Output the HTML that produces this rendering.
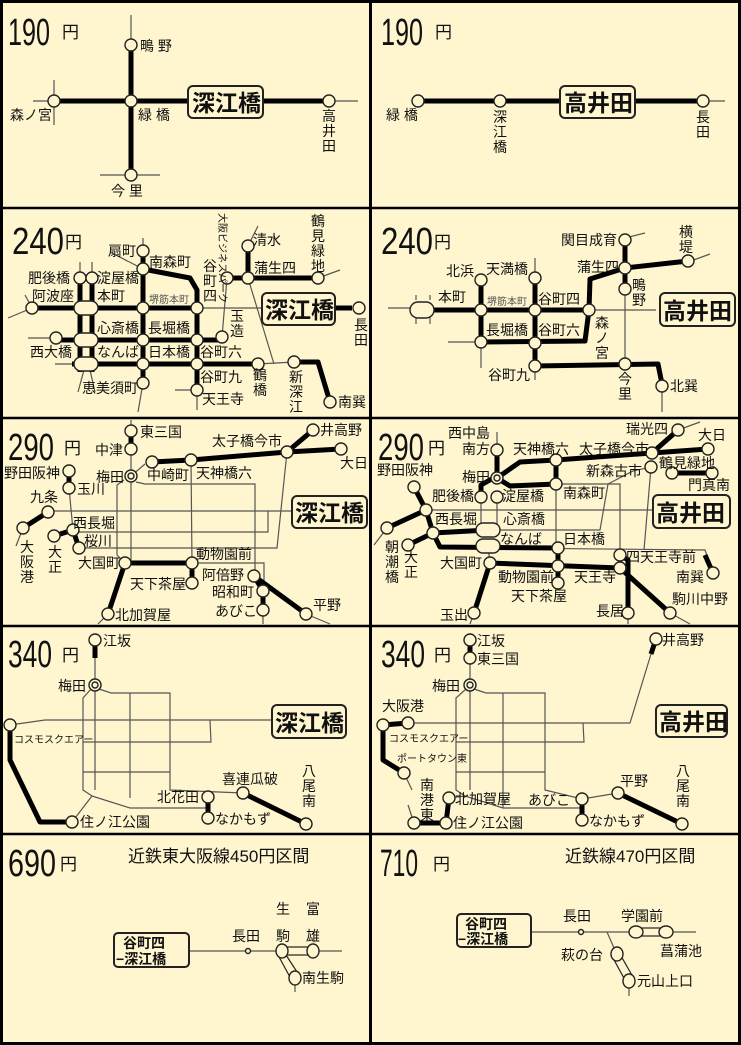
<!DOCTYPE html>
<html><head><meta charset="utf-8"><style>
html,body{margin:0;padding:0;background:#fff6cf;}
svg{display:block}
text{font-family:"Liberation Sans","Noto Sans CJK JP",sans-serif;font-size:14px;fill:#111}
.k{stroke:#000;stroke-width:5;fill:none;stroke-linejoin:round}
.h{stroke:#555;stroke-width:1.2;fill:none}
.s{fill:#fff6cf;stroke:#222;stroke-width:1.4}
.bx{fill:#fff6cf;stroke:#222;stroke-width:2}
.bt{font-size:23px;font-weight:bold}
.fare{font-size:38px}
.yen{font-size:17px}
</style></head><body>
<svg width="741" height="1045" viewBox="0 0 741 1045" xmlns="http://www.w3.org/2000/svg">
<rect x="0" y="0" width="741" height="1045" fill="#fff6cf"/>
<!-- frame -->
<rect x="1.5" y="1.5" width="738" height="1042" fill="none" stroke="#000" stroke-width="3"/>
<line x1="370.5" y1="0" x2="370.5" y2="1045" stroke="#000" stroke-width="3"/>
<g stroke="#000" stroke-width="2.5">
<line x1="0" y1="208" x2="741" y2="208"/><line x1="0" y1="418" x2="741" y2="418"/>
<line x1="0" y1="626" x2="741" y2="626"/><line x1="0" y1="834" x2="741" y2="834"/>
</g>

<!-- ===== Panel 1: 190 深江橋 ===== -->
<text x="8" y="45" class="fare" textLength="42" lengthAdjust="spacingAndGlyphs">190</text>
<text x="62" y="38" class="yen">円</text>
<line class="h" x1="131" y1="15" x2="131" y2="45"/>
<line class="h" x1="33" y1="101" x2="54" y2="101"/>
<line class="h" x1="54" y1="80" x2="54" y2="125"/>
<line class="h" x1="100" y1="175" x2="160" y2="175"/>
<line class="h" x1="329" y1="101" x2="358" y2="101"/>
<line class="k" x1="131" y1="45" x2="131" y2="175"/>
<line class="k" x1="54" y1="101" x2="329" y2="101"/>
<rect class="bx" x="188" y="86" width="75" height="32" rx="5"/>
<text x="192" y="111" class="bt">深江橋</text>
<circle class="s" cx="131" cy="45" r="6"/><circle class="s" cx="131" cy="101" r="6"/>
<circle class="s" cx="131" cy="175" r="6"/><circle class="s" cx="54" cy="101" r="6"/>
<circle class="s" cx="329" cy="101" r="6"/>
<text x="140" y="51">鴫 野</text><text x="138" y="120">緑 橋</text>
<text x="10" y="120">森ノ宮</text><text x="111" y="196">今 里</text>
<text x="322" y="121">高</text><text x="322" y="136">井</text><text x="322" y="151">田</text>

<!-- ===== Panel 2: 190 高井田 ===== -->
<text x="381" y="45" class="fare" textLength="42" lengthAdjust="spacingAndGlyphs">190</text>
<text x="435" y="38" class="yen">円</text>
<line class="k" x1="418" y1="101" x2="703" y2="101"/>
<line class="h" x1="703" y1="101" x2="725" y2="101"/>
<rect class="bx" x="560" y="86" width="75" height="32" rx="5"/>
<text x="564" y="111" class="bt">高井田</text>
<circle class="s" cx="418" cy="101" r="6"/><circle class="s" cx="500" cy="101" r="6"/>
<circle class="s" cx="703" cy="101" r="6"/>
<text x="386" y="120">緑 橋</text>
<text x="493" y="122">深</text><text x="493" y="137">江</text><text x="493" y="152">橋</text>
<text x="696" y="122">長</text><text x="696" y="137">田</text>

<!-- ===== Panel 3: 240 深江橋 ===== -->
<text x="12" y="254" class="fare" textLength="52" lengthAdjust="spacingAndGlyphs">240</text>
<text x="65" y="248" class="yen">円</text>
<g class="h">
<line x1="143" y1="238" x2="143" y2="251"/><line x1="110" y1="252" x2="143" y2="269"/>
<line x1="80" y1="262" x2="80" y2="278"/><line x1="92" y1="262" x2="92" y2="278"/>
<line x1="8" y1="318" x2="32" y2="308"/><line x1="25" y1="295" x2="32" y2="308"/>
<line x1="28" y1="338" x2="56" y2="338"/><line x1="55" y1="364" x2="72" y2="364"/>
<line x1="84" y1="370" x2="78" y2="392"/><line x1="90" y1="370" x2="95" y2="392"/>
<line x1="143" y1="383" x2="138" y2="412"/><line x1="175" y1="390" x2="197" y2="390"/><line x1="197" y1="390" x2="197" y2="410"/>
<line x1="197" y1="308" x2="262" y2="308"/>
<line x1="227" y1="278" x2="222" y2="337"/>
<line x1="248" y1="246" x2="258" y2="226"/><line x1="248" y1="278" x2="274" y2="364"/>
<line x1="258" y1="364" x2="294" y2="362"/><line x1="318" y1="278" x2="340" y2="270"/>
</g>
<g class="k">
<polyline points="143,251 143,385"/>
<polyline points="143,269 190,278 197,290 197,390"/>
<line x1="80" y1="278" x2="80" y2="372"/><line x1="92" y1="278" x2="92" y2="372"/>
<line x1="32" y1="308" x2="197" y2="308"/>
<line x1="56" y1="340" x2="222" y2="340"/>
<line x1="72" y1="364" x2="258" y2="364"/>
<polyline points="227,278 318,278"/><line x1="248" y1="246" x2="248" y2="278"/>
<polyline points="294,362 318,362 330,402"/>
<line x1="335" y1="308" x2="352" y2="308"/>
</g>
<rect class="s" x="74" y="301" width="24" height="14" rx="7"/>
<rect class="s" x="74" y="333" width="24" height="14" rx="7"/>
<rect class="s" x="74" y="357" width="24" height="14" rx="7"/>
<g class="s">
<circle cx="143" cy="251" r="6"/><circle cx="143" cy="269" r="6"/><circle cx="143" cy="308" r="6"/>
<circle cx="143" cy="340" r="6"/><circle cx="143" cy="364" r="6"/><circle cx="143" cy="383" r="6"/>
<circle cx="197" cy="308" r="6"/><circle cx="197" cy="340" r="6"/><circle cx="197" cy="364" r="6"/><circle cx="197" cy="390" r="6"/>
<circle cx="80" cy="278" r="6"/><circle cx="92" cy="278" r="6"/><circle cx="32" cy="308" r="6"/><circle cx="56" cy="338" r="6"/>
<circle cx="222" cy="337" r="6"/><circle cx="227" cy="278" r="6"/><circle cx="248" cy="246" r="6"/><circle cx="248" cy="278" r="6"/>
<circle cx="318" cy="278" r="6"/><circle cx="258" cy="364" r="6"/><circle cx="294" cy="362" r="6"/><circle cx="330" cy="402" r="6"/>
<circle cx="359" cy="308" r="6"/>
</g>
<rect class="bx" x="262" y="293" width="73" height="32" rx="5"/>
<text x="265" y="318" class="bt">深江橋</text>
<text x="108" y="256">扇町</text><text x="149" y="267">南森町</text>
<text x="28" y="283">肥後橋</text><text x="97" y="283">淀屋橋</text>
<text x="32" y="301">阿波座</text><text x="97" y="301">本町</text>
<text x="149" y="303" style="font-size:10px;fill:#555">堺筋本町</text>
<text x="97" y="333">心斎橋</text><text x="148" y="333">長堀橋</text>
<text x="30" y="357">西大橋</text><text x="97" y="357">なんば</text><text x="148" y="357">日本橋</text>
<text x="200" y="357">谷町六</text><text x="82" y="393">恵美須町</text>
<text x="200" y="382">谷町九</text><text x="202" y="404">天王寺</text>
<text x="203" y="271">谷</text><text x="203" y="286">町</text><text x="203" y="301">四</text>
<text x="230" y="321">玉</text><text x="230" y="336">造</text>
<text x="253" y="245">清水</text><text x="254" y="273">蒲生四</text>
<text x="311" y="226">鶴</text><text x="311" y="241">見</text><text x="311" y="256">緑</text><text x="311" y="271">地</text>
<text x="253" y="380">鶴</text><text x="253" y="395">橋</text>
<text x="289" y="382">新</text><text x="289" y="397">深</text><text x="289" y="412">江</text>
<text x="338" y="407">南巽</text>
<text x="354" y="330">長</text><text x="354" y="345">田</text>
<text transform="translate(219,213) rotate(90)" style="font-size:10px">大阪ビジネスパーク</text>

<!-- ===== Panel 4: 240 高井田 ===== -->
<text x="381" y="254" class="fare" textLength="52" lengthAdjust="spacingAndGlyphs">240</text>
<text x="434" y="248" class="yen">円</text>
<g class="h">
<line x1="388" y1="308" x2="410" y2="308"/><line x1="416" y1="295" x2="416" y2="300"/><line x1="430" y1="295" x2="430" y2="300"/>
<line x1="416" y1="316" x2="416" y2="324"/><line x1="430" y1="316" x2="430" y2="324"/>
<line x1="535" y1="258" x2="535" y2="278"/><line x1="448" y1="342" x2="481" y2="342"/><line x1="481" y1="342" x2="481" y2="368"/>
<line x1="535" y1="366" x2="535" y2="380"/>
<line x1="590" y1="310" x2="656" y2="310"/>
<line x1="625" y1="289" x2="625" y2="364"/>
<line x1="625" y1="238" x2="645" y2="233"/><line x1="688" y1="262" x2="710" y2="254"/>
<line x1="662" y1="384" x2="662" y2="412"/>
</g>
<g class="k">
<line x1="420" y1="310" x2="590" y2="310"/>
<line x1="481" y1="280" x2="481" y2="342"/><line x1="535" y1="278" x2="535" y2="366"/>
<polyline points="481,342 585,341 589,310 590,279 625,268 688,261"/>
<line x1="625" y1="240" x2="625" y2="289"/>
<polyline points="535,366 658,364 662,384"/>
</g>
<rect class="s" x="410" y="302" width="24" height="16" rx="8"/>
<g class="s">
<circle cx="481" cy="280" r="6"/><circle cx="535" cy="278" r="6"/>
<circle cx="481" cy="310" r="6"/><circle cx="535" cy="310" r="6"/><circle cx="589" cy="310" r="6"/>
<circle cx="481" cy="342" r="6"/><circle cx="535" cy="343" r="6"/><circle cx="535" cy="366" r="6"/>
<circle cx="625" cy="240" r="6"/><circle cx="625" cy="268" r="6"/><circle cx="625" cy="289" r="6"/>
<circle cx="688" cy="261" r="6"/><circle cx="625" cy="364" r="6"/><circle cx="662" cy="386" r="6"/>
</g>
<rect class="bx" x="660" y="293" width="75" height="33" rx="5"/>
<text x="663" y="319" class="bt">高井田</text>
<text x="446" y="276">北浜</text><text x="486" y="274">天満橋</text>
<text x="438" y="302">本町</text><text x="487" y="305" style="font-size:10px;fill:#555">堺筋本町</text>
<text x="538" y="304">谷町四</text><text x="486" y="335">長堀橋</text><text x="538" y="335">谷町六</text>
<text x="488" y="380">谷町九</text>
<text x="561" y="245">関目成育</text><text x="577" y="272">蒲生四</text>
<text x="632" y="290">鴫</text><text x="632" y="305">野</text>
<text x="679" y="237">横</text><text x="679" y="252">堤</text>
<text x="595" y="328">森</text><text x="595" y="343">ノ</text><text x="595" y="358">宮</text>
<text x="618" y="384">今</text><text x="618" y="399">里</text>
<text x="670" y="391">北巽</text>

<!-- ===== Panel 5: 290 深江橋 ===== -->
<text x="8" y="460" class="fare" textLength="46" lengthAdjust="spacingAndGlyphs">290</text>
<text x="64" y="454" class="yen">円</text>
<g class="h">
<line x1="131" y1="420" x2="131" y2="563"/>
<polyline points="124,480 117,485 117,555 125,563"/>
<polyline points="136,482 145,484 255,484 255,576"/>
<line x1="191" y1="460" x2="192" y2="563"/>
<line x1="48" y1="511" x2="292" y2="511"/>
<polyline points="73,530 72,532 268,532 268,511"/>
<polyline points="79,548 277,548 287,452"/>
<polyline points="192,563 264,563 264,591"/>
<line x1="69" y1="488" x2="73" y2="530"/>
<line x1="23" y1="528" x2="16" y2="546"/>
<line x1="263" y1="610" x2="263" y2="624"/><line x1="108" y1="614" x2="98" y2="624"/><line x1="306" y1="614" x2="330" y2="624"/>
<line x1="131" y1="476" x2="145" y2="464"/>
</g>
<g class="k">
<line x1="131" y1="431" x2="131" y2="449"/>
<polyline points="152,462 191,460 287,452 313,430"/><line x1="287" y1="452" x2="341" y2="449"/>
<line x1="69" y1="471" x2="69" y2="488"/><line x1="48" y1="512" x2="23" y2="528"/>
<line x1="73" y1="530" x2="54" y2="536"/><line x1="73" y1="530" x2="79" y2="548"/>
<line x1="125" y1="563" x2="192" y2="563"/><line x1="192" y1="563" x2="192" y2="583"/>
<line x1="125" y1="563" x2="108" y2="614"/>
<polyline points="254,576 263,591 263,610"/><line x1="254" y1="576" x2="306" y2="614"/>
</g>
<g class="s">
<circle cx="131" cy="431" r="6"/><circle cx="131" cy="449" r="6"/><circle cx="131" cy="476" r="6"/><circle cx="131" cy="476" r="3"/>
<circle cx="152" cy="462" r="6"/><circle cx="191" cy="460" r="6"/><circle cx="287" cy="452" r="6"/>
<circle cx="313" cy="430" r="6"/><circle cx="341" cy="449" r="6"/>
<circle cx="69" cy="471" r="6"/><circle cx="69" cy="488" r="6"/><circle cx="48" cy="512" r="6"/><circle cx="23" cy="528" r="6"/>
<circle cx="73" cy="530" r="6"/><circle cx="54" cy="536" r="6"/><circle cx="79" cy="548" r="6"/>
<circle cx="125" cy="563" r="6"/><circle cx="192" cy="563" r="6"/><circle cx="192" cy="583" r="6"/><circle cx="108" cy="614" r="6"/>
<circle cx="254" cy="576" r="6"/><circle cx="263" cy="591" r="6"/><circle cx="263" cy="610" r="6"/><circle cx="306" cy="614" r="6"/>
</g>
<rect class="bx" x="292" y="496" width="75" height="32" rx="5"/>
<text x="295" y="521" class="bt">深江橋</text>
<text x="140" y="437">東三国</text><text x="95" y="455">中津</text><text x="96" y="482">梅田</text>
<text x="147" y="480">中崎町</text><text x="196" y="478">天神橋六</text><text x="212" y="446">太子橋今市</text>
<text x="320" y="435">井高野</text><text x="340" y="468">大日</text>
<text x="4" y="478">野田阪神</text><text x="77" y="494">玉川</text><text x="30" y="502">九条</text>
<text x="73" y="528">西長堀</text><text x="84" y="546">桜川</text>
<text x="20" y="552">大</text><text x="20" y="567">阪</text><text x="20" y="582">港</text>
<text x="48" y="557">大</text><text x="48" y="572">正</text>
<text x="78" y="568">大国町</text><text x="196" y="559">動物園前</text><text x="130" y="589">天下茶屋</text>
<text x="115" y="620">北加賀屋</text><text x="202" y="580">阿倍野</text><text x="212" y="597">昭和町</text>
<text x="215" y="616">あびこ</text><text x="313" y="610">平野</text>

<!-- ===== Panel 6: 290 高井田 ===== -->
<text x="378" y="460" class="fare" textLength="46" lengthAdjust="spacingAndGlyphs">290</text>
<text x="428" y="454" class="yen">円</text>
<g class="h">
<line x1="497" y1="432" x2="497" y2="450"/>
<line x1="497" y1="497" x2="497" y2="530"/><line x1="481" y1="497" x2="481" y2="528"/>
<line x1="426" y1="510" x2="653" y2="510"/>
<polyline points="488,530 600,530 608,484 633,471 651,467"/>
<polyline points="510,484 620,484 620,555"/>
<line x1="556" y1="484" x2="556" y2="548"/>
<line x1="651" y1="467" x2="644" y2="550"/>
<polyline points="500,548 705,550 713,573"/>
<line x1="387" y1="528" x2="374" y2="545"/><line x1="474" y1="613" x2="470" y2="624"/>
<line x1="628" y1="613" x2="628" y2="624"/><line x1="670" y1="613" x2="690" y2="624"/>
<line x1="678" y1="430" x2="700" y2="422"/><line x1="488" y1="546" x2="490" y2="563"/>
</g>
<g class="k">
<line x1="497" y1="450" x2="497" y2="478"/>
<polyline points="481,497 481,485 497,476"/>
<polyline points="497,478 520,462 556,460 652,453 678,430"/><line x1="652" y1="453" x2="708" y2="449"/>
<polyline points="497,478 510,486 556,484"/><line x1="556" y1="460" x2="556" y2="484"/>
<line x1="672" y1="473" x2="712" y2="473"/>
<line x1="414" y1="487" x2="426" y2="510"/><line x1="387" y1="528" x2="426" y2="510"/>
<polyline points="426,510 433,533 488,530"/><line x1="433" y1="533" x2="408" y2="545"/>
<polyline points="433,533 440,547 558,548"/>
<line x1="490" y1="563" x2="620" y2="568"/><line x1="558" y1="548" x2="558" y2="583"/>
<line x1="490" y1="563" x2="474" y2="613"/>
<polyline points="620,555 628,560 628,613"/><line x1="620" y1="568" x2="670" y2="613"/>
<line x1="705" y1="555" x2="713" y2="573"/>
</g>
<rect class="s" x="476" y="523" width="24" height="14" rx="7"/>
<rect class="s" x="476" y="539" width="24" height="14" rx="7"/>
<g class="s">
<circle cx="497" cy="450" r="6"/><circle cx="497" cy="478" r="6"/><circle cx="497" cy="478" r="3"/>
<circle cx="481" cy="497" r="6"/><circle cx="497" cy="497" r="6"/>
<circle cx="556" cy="460" r="6"/><circle cx="556" cy="484" r="6"/><circle cx="652" cy="453" r="6"/>
<circle cx="678" cy="430" r="6"/><circle cx="708" cy="449" r="6"/><circle cx="651" cy="467" r="6"/>
<circle cx="672" cy="473" r="6"/><circle cx="712" cy="473" r="6"/>
<circle cx="414" cy="487" r="6"/><circle cx="426" cy="510" r="6"/><circle cx="387" cy="528" r="6"/>
<circle cx="433" cy="533" r="6"/><circle cx="408" cy="545" r="6"/>
<circle cx="558" cy="548" r="6"/><circle cx="490" cy="563" r="6"/><circle cx="558" cy="566" r="6"/><circle cx="558" cy="583" r="6"/>
<circle cx="474" cy="613" r="6"/><circle cx="620" cy="555" r="6"/><circle cx="620" cy="568" r="6"/>
<circle cx="713" cy="573" r="6"/><circle cx="628" cy="613" r="6"/><circle cx="670" cy="613" r="6"/>
</g>
<rect class="bx" x="653" y="495" width="77" height="33" rx="5"/>
<text x="656" y="521" class="bt">高井田</text>
<text x="448" y="438">西中島</text><text x="462" y="454">南方</text><text x="462" y="482">梅田</text>
<text x="432" y="501">肥後橋</text><text x="502" y="501">淀屋橋</text>
<text x="513" y="454">天神橋六</text><text x="579" y="454">太子橋今市</text>
<text x="626" y="434">瑞光四</text><text x="698" y="440">大日</text>
<text x="586" y="476">新森古市</text><text x="659" y="468">鶴見緑地</text><text x="688" y="490">門真南</text>
<text x="563" y="498">南森町</text><text x="377" y="475">野田阪神</text>
<text x="435" y="524">西長堀</text><text x="503" y="524">心斎橋</text><text x="500" y="544">なんば</text>
<text x="563" y="544">日本橋</text>
<text x="385" y="552">朝</text><text x="385" y="567">潮</text><text x="385" y="582">橋</text>
<text x="404" y="562">大</text><text x="404" y="577">正</text>
<text x="440" y="568">大国町</text><text x="498" y="582">動物園前</text><text x="511" y="601">天下茶屋</text>
<text x="574" y="582">天王寺</text><text x="626" y="562">四天王寺前</text><text x="676" y="582">南巽</text>
<text x="672" y="604">駒川中野</text><text x="596" y="616">長居</text><text x="440" y="620">玉出</text>

<!-- ===== Panel 7: 340 深江橋 ===== -->
<text x="8" y="667" class="fare" textLength="44" lengthAdjust="spacingAndGlyphs">340</text>
<text x="62" y="661" class="yen">円</text>
<g class="h">
<line x1="95" y1="658" x2="95" y2="790"/>
<polyline points="91,689 83,698 83,790 92,796 72,822"/>
<polyline points="99,689 111,693 170,693 170,790 243,793"/>
<line x1="130" y1="693" x2="130" y2="798"/>
<polyline points="10,725 45,720 272,720"/>
<polyline points="210,720 211,742 83,742"/>
<line x1="83" y1="772" x2="170" y2="772"/>
<polyline points="92,796 130,808 208,808 208,797"/>
</g>
<g class="k">
<line x1="95" y1="640" x2="95" y2="658"/>
<polyline points="10,725 10,760 40,822 72,822"/>
<line x1="208" y1="797" x2="208" y2="818"/>
<line x1="243" y1="793" x2="306" y2="824"/>
</g>
<g class="s">
<circle cx="95" cy="640" r="6"/><circle cx="95" cy="685" r="6"/><circle cx="95" cy="685" r="3"/>
<circle cx="10" cy="725" r="6"/><circle cx="72" cy="822" r="6"/>
<circle cx="208" cy="797" r="6"/><circle cx="208" cy="818" r="6"/>
<circle cx="243" cy="793" r="6"/><circle cx="306" cy="824" r="6"/>
</g>
<rect class="bx" x="272" y="705" width="74" height="33" rx="5"/>
<text x="275" y="731" class="bt">深江橋</text>
<text x="103" y="646">江坂</text><text x="58" y="691">梅田</text>
<text x="14" y="743" style="font-size:10px">コスモスクエアー</text>
<text x="80" y="827">住ノ江公園</text><text x="157" y="802">北花田</text>
<text x="215" y="824">なかもず</text><text x="222" y="784">喜連瓜破</text>
<text x="302" y="776">八</text><text x="302" y="791">尾</text><text x="302" y="806">南</text>

<!-- ===== Panel 8: 340 高井田 ===== -->
<text x="381" y="667" class="fare" textLength="44" lengthAdjust="spacingAndGlyphs">340</text>
<text x="434" y="661" class="yen">円</text>
<g class="h">
<line x1="470" y1="664" x2="470" y2="790"/>
<polyline points="466,689 456,698 456,790 465,796 449,798"/>
<polyline points="474,689 486,693 545,693 545,790 582,799"/>
<line x1="503" y1="693" x2="503" y2="808"/>
<polyline points="408,723 630,723 651,654"/>
<polyline points="583,723 584,742 456,742"/>
<line x1="456" y1="772" x2="545" y2="772"/>
<polyline points="465,796 503,808 582,808 582,799 618,793"/>
<line x1="404" y1="773" x2="412" y2="790"/>
<line x1="414" y1="823" x2="408" y2="805"/>
</g>
<g class="k">
<line x1="470" y1="640" x2="470" y2="658"/>
<line x1="656" y1="639" x2="651" y2="654"/>
<polyline points="408,723 383,725 383,760 404,773"/>
<polyline points="414,823 446,823 449,798"/>
<line x1="582" y1="799" x2="582" y2="820"/>
<line x1="618" y1="793" x2="682" y2="824"/>
</g>
<g class="s">
<circle cx="470" cy="640" r="6"/><circle cx="470" cy="658" r="6"/><circle cx="470" cy="685" r="6"/><circle cx="470" cy="685" r="3"/>
<circle cx="656" cy="639" r="6"/><circle cx="408" cy="723" r="6"/><circle cx="383" cy="725" r="6"/>
<circle cx="404" cy="773" r="6"/><circle cx="414" cy="823" r="6"/><circle cx="446" cy="823" r="6"/>
<circle cx="449" cy="798" r="6"/><circle cx="582" cy="799" r="6"/><circle cx="582" cy="820" r="6"/>
<circle cx="618" cy="793" r="6"/><circle cx="682" cy="824" r="6"/>
</g>
<rect class="bx" x="656" y="705" width="71" height="32" rx="5"/>
<text x="659" y="730" class="bt">高井田</text>
<text x="477" y="646">江坂</text><text x="477" y="664">東三国</text><text x="432" y="691">梅田</text>
<text x="662" y="645">井高野</text><text x="382" y="711">大阪港</text>
<text x="389" y="742" style="font-size:10px">コスモスクエアー</text>
<text x="397" y="762" style="font-size:10px">ポートタウン東</text>
<text x="420" y="790">南</text><text x="420" y="805">港</text><text x="420" y="820">東</text>
<text x="455" y="804">北加賀屋</text><text x="453" y="828">住ノ江公園</text>
<text x="528" y="805">あびこ</text><text x="589" y="826">なかもず</text><text x="620" y="786">平野</text>
<text x="676" y="776">八</text><text x="676" y="791">尾</text><text x="676" y="806">南</text>

<!-- ===== Panel 9: 690 ===== -->
<text x="8" y="876" class="fare" textLength="48" lengthAdjust="spacingAndGlyphs">690</text>
<text x="60" y="870" class="yen">円</text>
<text x="128" y="862" style="font-size:17px">近鉄東大阪線450円区間</text>
<line class="h" x1="189" y1="951" x2="342" y2="951"/>
<line class="h" x1="295" y1="978" x2="295" y2="992"/>
<rect class="bx" x="114" y="933" width="75" height="34" rx="4"/>
<text x="123" y="948" style="font-size:14px;font-weight:bold">谷町四</text>
<text x="116" y="964" style="font-size:14px;font-weight:bold">−深江橋</text>
<rect x="282" y="947" width="31" height="8" fill="#fff6cf" stroke="#222" stroke-width="1.2"/>
<polygon points="278,955 286,955 299,975 291,979" fill="#fff6cf" stroke="#222" stroke-width="1.2"/>
<circle cx="248" cy="951" r="2.5" class="s"/>
<ellipse class="s" cx="282" cy="951" rx="6" ry="7"/><ellipse class="s" cx="313" cy="951" rx="6" ry="7"/>
<ellipse class="s" cx="295" cy="978" rx="6" ry="7"/>
<text x="232" y="941">長田</text>
<text x="276" y="914">生</text><text x="306" y="914">富</text>
<text x="276" y="941">駒</text><text x="306" y="941">雄</text>
<text x="302" y="983">南生駒</text>

<!-- ===== Panel 10: 710 ===== -->
<text x="380" y="876" class="fare" textLength="38" lengthAdjust="spacingAndGlyphs">710</text>
<text x="433" y="870" class="yen">円</text>
<text x="565" y="862" style="font-size:17px">近鉄線470円区間</text>
<line class="h" x1="531" y1="932" x2="696" y2="932"/>
<line class="h" x1="607" y1="932" x2="614" y2="948"/>
<line class="h" x1="629" y1="981" x2="629" y2="996"/>
<rect class="bx" x="457" y="914" width="74" height="33" rx="4"/>
<text x="465" y="929" style="font-size:14px;font-weight:bold">谷町四</text>
<text x="458" y="944" style="font-size:14px;font-weight:bold">−深江橋</text>
<rect x="636" y="928" width="30" height="8" fill="#fff6cf" stroke="#222" stroke-width="1.2"/>
<polygon points="613,958 621,956 633,977 625,980" fill="#fff6cf" stroke="#222" stroke-width="1.2"/>
<circle cx="581" cy="932" r="2.5" class="s"/>
<ellipse class="s" cx="636" cy="932" rx="7" ry="6"/><ellipse class="s" cx="666" cy="932" rx="7" ry="6"/>
<ellipse class="s" cx="617" cy="954" rx="6" ry="7"/><ellipse class="s" cx="629" cy="981" rx="6" ry="7"/>
<text x="563" y="921">長田</text><text x="621" y="921">学園前</text>
<text x="660" y="956">菖蒲池</text><text x="561" y="960">萩の台</text>
<text x="637" y="986">元山上口</text>
</svg>
</body></html>
